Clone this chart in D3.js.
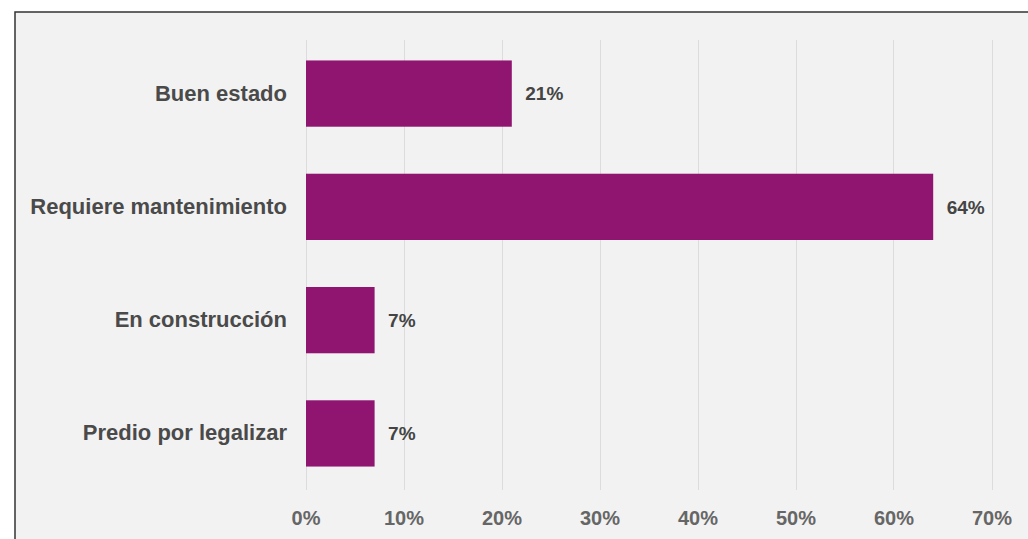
<!DOCTYPE html>
<html><head><meta charset="utf-8">
<script src="https://cdn.jsdelivr.net/npm/d3@7"></script>
<style>
html,body{margin:0;padding:0;background:#fff;}
svg{display:block;}
</style></head>
<body>
<svg id="chart" width="1028" height="539"></svg>
<script>
const categories = ["Buen estado", "Requiere mantenimiento", "En construcción", "Predio por legalizar"];
const values = [21, 64, 7, 7];
const tickValues = [0, 10, 20, 30, 40, 50, 60, 70];

const svg = d3.select("#chart");
const W = 1028, H = 539;
// panel
svg.append("rect").attr("x", 15).attr("y", 12).attr("width", W).attr("height", H)
  .attr("fill", "#f2f2f2").attr("stroke", "#333").attr("stroke-width", 1.5);

const x = d3.scaleLinear().domain([0, 70]).range([305.5, 991.5]);
const y = d3.scaleBand().domain(categories).range([37, 490]).paddingInner(0.415).paddingOuter(0.207);

// gridlines
svg.append("g").selectAll("line").data(tickValues).join("line")
  .attr("x1", d => Math.round(x(d)) + 0.5).attr("x2", d => Math.round(x(d)) + 0.5)
  .attr("y1", 40).attr("y2", 490)
  .attr("stroke", "#dcdcdc").attr("stroke-width", 1);

// x axis labels
const xAxis = d3.axisBottom(x).tickValues(tickValues).tickFormat(d => d + "%").tickSize(0).tickPadding(0);
const gx = svg.append("g").attr("transform", "translate(0,511)").call(xAxis);
gx.select(".domain").remove();
gx.selectAll("text").attr("font-family", "Liberation Sans, Arial, sans-serif")
  .attr("font-size", 20).attr("font-weight", "bold").attr("fill", "#666");

// y axis labels
const yAxis = d3.axisLeft(y).tickSize(0).tickPadding(18);
const gy = svg.append("g").attr("transform", "translate(305,0)").call(yAxis);
gy.select(".domain").remove();
gy.selectAll("text").attr("font-family", "Liberation Sans, Arial, sans-serif")
  .attr("font-size", 22).attr("font-weight", "bold").attr("fill", "#4a4a4a");

// bars
svg.append("g").selectAll("rect").data(values).join("rect")
  .attr("x", x(0) + 0.5)
  .attr("y", (d, i) => y(categories[i]))
  .attr("width", d => x(d) - x(0))
  .attr("height", y.bandwidth())
  .attr("fill", "#8f1571");

// value labels
svg.append("g").selectAll("text").data(values).join("text")
  .attr("x", d => x(d) + 14)
  .attr("y", (d, i) => y(categories[i]) + y.bandwidth() / 2)
  .attr("dy", "0.35em")
  .attr("font-family", "Liberation Sans, Arial, sans-serif")
  .attr("font-size", 19).attr("font-weight", "bold").attr("fill", "#444")
  .text(d => d + "%");
</script>
</body></html>
